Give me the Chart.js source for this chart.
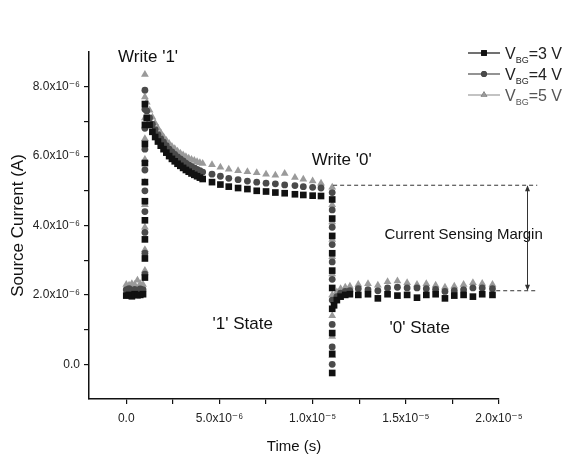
<!DOCTYPE html>
<html><head><meta charset="utf-8">
<script src="https://cdn.jsdelivr.net/npm/chart.js@4/dist/chart.umd.min.js"></script>
<style>html,body{margin:0;padding:0;background:#fff}#wrap{width:562px;height:460px}</style>
</head><body><div id="wrap"><canvas id="c" width="562" height="460"></canvas></div>
<script>
// ---- data (time in microseconds, current in microamps) ----
const seriesNames = ['V_BG=3 V', 'V_BG=4 V', 'V_BG=5 V'];
const legendValues = ['=3 V', '=4 V', '=5 V'];
const timeUs = [
  0, 0.15, 0.3, 0.45, 0.6, 0.75, 0.9,
  1.0, 1.0, 1.0, 1.0, 1.0, 1.0, 1.0, 1.0, 1.0, 1.0,
  1.1, 1.25, 1.4, 1.55, 1.7, 1.85, 2.0, 2.15, 2.3, 2.45, 2.6, 2.75, 2.9, 3.05, 3.2, 3.35, 3.5, 3.65, 3.8, 3.95, 4.1,
  4.6, 5.05, 5.5, 6.0, 6.5, 7.0, 7.5, 8.0, 8.5, 9.05, 9.5, 10.0, 10.45,
  11.05, 11.05, 11.05, 11.05, 11.05, 11.05, 11.05, 11.05, 11.05, 11.05,
  11.15, 11.3, 11.5, 11.75, 12.0,
  12.45, 12.97, 13.5, 14.02, 14.55, 15.07, 15.6, 16.1, 16.6, 17.1, 17.6, 18.1, 18.6, 19.1, 19.65
];
const currentVbg3 = [
  1.98, 2.0, 1.96, 2.02, 1.99, 2.0, 2.02,
  2.5, 3.05, 3.6, 4.15, 4.7, 5.25, 5.8, 6.35, 6.9, 7.5,
  7.1, 6.9, 6.7, 6.55, 6.42, 6.3, 6.2, 6.1, 6.0, 5.92, 5.85, 5.78, 5.72, 5.66, 5.6, 5.55, 5.5, 5.46, 5.42, 5.38, 5.34,
  5.25, 5.18, 5.12, 5.08, 5.05, 5.0, 4.98, 4.95, 4.93, 4.9, 4.88, 4.86, 4.85,
  4.75, 4.2, 3.7, 3.2, 2.7, 2.2, 1.6, 0.9, 0.3, -0.25,
  1.7, 1.85, 1.95, 2.0, 2.02,
  2.0, 2.02, 1.9, 2.02, 1.98, 2.0, 1.92, 2.0, 2.02, 1.9, 1.98, 2.0, 1.95, 2.02, 2.0
];
const currentVbg4 = [
  2.15, 2.18, 2.13, 2.16, 2.14, 2.17, 2.15,
  2.6, 3.2, 3.8, 4.4, 5.0, 5.6, 6.2, 6.8, 7.35, 7.9,
  7.3, 7.1, 6.92, 6.76, 6.62, 6.5, 6.4, 6.3, 6.2, 6.12, 6.05, 5.98, 5.92, 5.86, 5.8, 5.75, 5.7, 5.66, 5.62, 5.58, 5.54,
  5.48, 5.42, 5.36, 5.32, 5.28, 5.25, 5.22, 5.2, 5.17, 5.15, 5.12, 5.1, 5.08,
  4.95, 4.45, 3.95, 3.45, 2.95, 2.45, 1.85, 1.15, 0.5, 0.0,
  1.8, 1.95, 2.05, 2.1, 2.12,
  2.18, 2.15, 2.12, 2.2, 2.22, 2.2, 2.2, 2.18, 2.16, 2.1, 2.12, 2.15, 2.2, 2.2, 2.18
];
const currentVbg5 = [
  2.3, 2.28, 2.32, 2.3, 2.42, 2.32, 2.3,
  2.7, 3.3, 3.95, 4.6, 5.25, 5.9, 6.5, 7.1, 7.7, 8.35,
  7.55, 7.32, 7.12, 6.95, 6.8, 6.67, 6.55, 6.45, 6.36, 6.28, 6.21, 6.14, 6.08, 6.03, 5.98, 5.94, 5.9, 5.87, 5.84, 5.81, 5.79,
  5.75, 5.68, 5.62, 5.58, 5.55, 5.52, 5.48, 5.45, 5.5, 5.38, 5.33, 5.28, 5.22,
  5.1, 4.6, 4.1, 3.6, 3.1, 2.6, 2.0, 1.4, 0.8, 0.25,
  1.95, 2.08, 2.18, 2.22, 2.25,
  2.3, 2.32, 2.28, 2.38, 2.4, 2.35, 2.3, 2.32, 2.28, 2.22, 2.25, 2.3, 2.35, 2.33, 2.3
];
const xMajorTicks = [0, 5e-6, 1e-5, 1.5e-5, 2e-5];
const xTickLabels = ['0.0', '5.0x10\u207B\u2076', '1.0x10\u207B\u2075', '1.5x10\u207B\u2075', '2.0x10\u207B\u2075'];
const xMinorTicks = [2.5e-6, 7.5e-6, 1.25e-5, 1.75e-5];
const yMajorTicks = [0, 2e-6, 4e-6, 6e-6, 8e-6];
const yTickLabels = ['0.0', '2.0x10\u207B\u2076', '4.0x10\u207B\u2076', '6.0x10\u207B\u2076', '8.0x10\u207B\u2076'];
const yMinorTicks = [1e-6, 3e-6, 5e-6, 7e-6];
const marginLevels = [5.16e-6, 2.12e-6];

// ---- styling ----
const colors = ['#111111', '#4a4a4a', '#9a9a9a'];
const shapes = ['rect', 'circle', 'triangle'];
const radii = [4.7, 3.4, 4.5];
const FONT = "'Liberation Sans', Arial, 'DejaVu Sans', sans-serif";

const seriesValues = [currentVbg3, currentVbg4, currentVbg5];
const datasets = seriesValues.map((vals, i) => ({
  label: seriesNames[i],
  data: vals.map((v, k) => ({x: timeUs[k] * 1e-6, y: v * 1e-6})),
  showLine: false,
  pointStyle: shapes[i],
  pointRadius: radii[i],
  pointBorderWidth: 0,
  backgroundColor: colors[i],
  borderColor: colors[i]
}));

function labelFor(value, majors, labels) {
  for (let i = 0; i < majors.length; i++) {
    if (Math.abs(value - majors[i]) < 1e-9) return labels[i];
  }
  return '';
}

const annotations = {
  id: 'annotations',
  afterDatasetsDraw(chart) {
    const {ctx, scales: {x, y}} = chart;
    ctx.save();
    ctx.fillStyle = '#111';
    ctx.textAlign = 'center';
    ctx.textBaseline = 'middle';
    const texts = [
      ["Write '1'", 1.17e-6, 8.84e-6, 17],
      ["Write '0'", 11.56e-6, 5.87e-6, 17],
      ["'1' State", 6.25e-6, 1.16e-6, 17],
      ["'0' State", 15.75e-6, 1.04e-6, 17],
      ['Current Sensing Margin', 18.1e-6, 3.74e-6, 15]
    ];
    texts.forEach(([t, tx, ty, fs]) => {
      ctx.font = fs + 'px ' + FONT;
      ctx.fillText(t, x.getPixelForValue(tx), y.getPixelForValue(ty));
    });
    // dashed margin lines
    ctx.strokeStyle = '#333';
    ctx.lineWidth = 1;
    ctx.setLineDash([4, 3]);
    const yu = y.getPixelForValue(marginLevels[0]);
    const yl = y.getPixelForValue(marginLevels[1]);
    ctx.beginPath();
    ctx.moveTo(x.getPixelForValue(11.1e-6), yu);
    ctx.lineTo(x.getPixelForValue(22.05e-6), yu);
    ctx.moveTo(x.getPixelForValue(19.85e-6), yl);
    ctx.lineTo(x.getPixelForValue(22.05e-6), yl);
    ctx.stroke();
    ctx.setLineDash([]);
    // double arrow
    const ax = Math.round(x.getPixelForValue(21.5e-6)) + 0.5;
    ctx.beginPath();
    ctx.moveTo(ax, yu + 1);
    ctx.lineTo(ax, yl - 1);
    ctx.stroke();
    ctx.fillStyle = '#333';
    ctx.beginPath();
    ctx.moveTo(ax, yu); ctx.lineTo(ax - 2.5, yu + 6); ctx.lineTo(ax + 2.5, yu + 6); ctx.closePath();
    ctx.moveTo(ax, yl); ctx.lineTo(ax - 2.5, yl - 6); ctx.lineTo(ax + 2.5, yl - 6); ctx.closePath();
    ctx.fill();
    ctx.restore();
  }
};

const legendPlugin = {
  id: 'customLegend',
  afterDraw(chart) {
    const {ctx} = chart;
    ctx.save();
    const rows = [53, 74, 95];
    chart.data.datasets.forEach((ds, i) => {
      const yy = rows[i];
      ctx.strokeStyle = colors[i];
      ctx.lineWidth = 1.2;
      ctx.beginPath();
      ctx.moveTo(468, yy); ctx.lineTo(500, yy);
      ctx.stroke();
      Chart.helpers.drawPoint(ctx, {pointStyle: shapes[i], radius: radii[i] * 0.85, borderWidth: 0}, 484, yy);
      ctx.fillStyle = colors[i];
      ctx.fill();
      ctx.fillStyle = i === 2 ? '#555' : '#222';
      ctx.textBaseline = 'alphabetic';
      ctx.textAlign = 'left';
      ctx.font = '16px ' + FONT;
      let tx = 505;
      ctx.fillText('V', tx, yy + 6);
      tx += ctx.measureText('V').width;
      ctx.font = '9px ' + FONT;
      ctx.fillText('BG', tx, yy + 10);
      tx += ctx.measureText('BG').width;
      ctx.font = '16px ' + FONT;
      ctx.fillText(legendValues[i], tx, yy + 6);
    });
    ctx.restore();
  }
};

new Chart(document.getElementById('c'), {
  type: 'scatter',
  data: {datasets},
  options: {
    responsive: false,
    animation: false,
    devicePixelRatio: 1,
    layout: {padding: {left: 0, top: 52, right: 63, bottom: 0}},
    plugins: {legend: {display: false}, tooltip: {enabled: false}},
    scales: {
      x: {
        type: 'linear',
        min: -2e-6, max: 2e-5,
        afterFit: s => { s.height = 61; },
        afterBuildTicks: s => { s.ticks = xMajorTicks.concat(xMinorTicks).sort((a, b) => a - b).map(v => ({value: v})); },
        border: {display: true, color: '#111', width: 1.5},
        grid: {drawOnChartArea: false, drawTicks: true, tickLength: 5, color: '#111', lineWidth: 1.2},
        ticks: {
          autoSkip: false, maxRotation: 0, padding: 7, color: '#222',
          font: {family: FONT, size: 12},
          callback: v => labelFor(v, xMajorTicks, xTickLabels)
        },
        title: {display: true, text: 'Time (s)', color: '#111', font: {family: FONT, size: 15}, padding: {top: 0, bottom: 4}}
      },
      y: {
        type: 'linear',
        min: -1e-6, max: 9e-6,
        afterFit: s => { s.width = 89; },
        afterBuildTicks: s => { s.ticks = yMajorTicks.concat(yMinorTicks).sort((a, b) => a - b).map(v => ({value: v})); },
        border: {display: true, color: '#111', width: 1.5},
        grid: {drawOnChartArea: false, drawTicks: true, tickLength: 5, color: '#111', lineWidth: 1.2},
        ticks: {
          autoSkip: false, padding: 4, color: '#222',
          font: {family: FONT, size: 12},
          callback: v => labelFor(v, yMajorTicks, yTickLabels)
        },
        title: {display: true, text: 'Source Current (A)', color: '#111', font: {family: FONT, size: 17}, padding: {top: 8, bottom: 0}}
      }
    }
  },
  plugins: [annotations, legendPlugin]
});
</script>
</body></html>
